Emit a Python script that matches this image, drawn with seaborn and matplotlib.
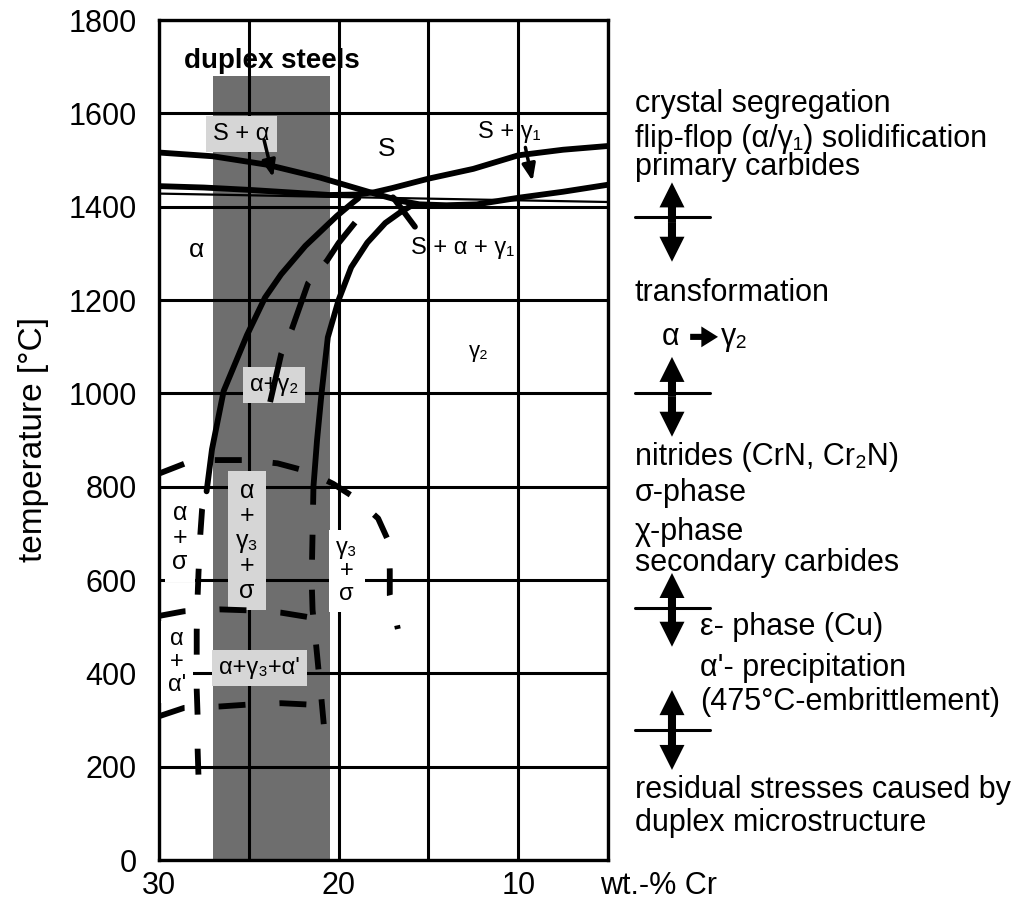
import matplotlib
matplotlib.use("Agg")
import matplotlib.pyplot as plt
import seaborn as sns
from matplotlib.patches import Rectangle

sns.set_theme(style="white")
plt.rcParams["font.family"] = ["Liberation Sans", "DejaVu Sans"]
plt.rcParams["lines.scale_dashes"] = False

# ------------------------------------------------------------------ data
x_ticks = [30, 25, 20, 15, 10, 5]
x_ticklabels = ["30", "", "20", "", "10", ""]
y_ticks = [0, 200, 400, 600, 800, 1000, 1200, 1400, 1600, 1800]

duplex_cr = [27.0, 20.5]
duplex_top = 1680

# liquidus / solidus lines
liq_a_cr = [30, 27, 24, 21, 19.5, 18, 16.5, 15.5, 14, 12.3, 10, 7.5, 5]
liq_a_t = [1516, 1508, 1490, 1462, 1445, 1428, 1412, 1405, 1403, 1405, 1419, 1432, 1447]
liq_b_cr = [30, 27.5, 25, 22.5, 20.5, 19, 18, 17, 15, 12.5, 10, 7.5, 5]
liq_b_t = [1444, 1441, 1436, 1430, 1425, 1426, 1431, 1440, 1460, 1481, 1510, 1522, 1530]
sol_cr = [30, 5]
sol_t = [1428, 1410]

# alpha / (alpha+gamma) boundary (solid)
c_cr = [27.35, 27.05, 26.4, 25.1, 24.1, 23.2, 21.85, 20.1, 19.2, 18.9]
c_t = [790, 880, 1005, 1125, 1205, 1255, 1316, 1380, 1409, 1418]
# (alpha+gamma) / gamma boundary (solid)
d_cr = [21.4, 21.2, 20.95, 20.6, 20.0, 19.3, 18.4, 17.4, 16.6, 16.0]
d_t = [800, 900, 1000, 1120, 1200, 1270, 1323, 1365, 1387, 1401]
# dashed boundary inside alpha+gamma2
e_cr = [19.08, 20.0, 20.65, 21.7, 22.6, 23.2, 23.85]
e_t = [1366, 1322, 1284, 1236, 1138, 1084, 975]
# sigma dome
f_cr = [30, 28.6, 27, 25.2, 23.4, 21.65, 20.3, 19.0, 17.8, 17.2, 17.15, 17.15, 16.9, 16.7]
f_t = [828, 849, 857, 857, 850, 832, 806, 774, 732, 681, 620, 568, 530, 495]
# lower sigma boundary
g_cr = [30, 28.6, 26.6, 25.05, 23.2, 21.6]
g_t = [523, 533, 537, 535, 530, 520]
# left vertical dashed boundary
h_cr = [27.35, 27.6, 27.7, 27.8, 27.85, 27.9, 27.9, 27.9, 27.85, 27.85, 27.8]
h_t = [790, 752, 697, 616, 564, 491, 435, 365, 308, 238, 177]
# right vertical dashed boundary
i_cr = [21.4, 21.45, 21.5, 21.45, 21.25, 21.1, 20.95, 20.8]
i_t = [800, 700, 600, 536, 460, 400, 343, 280]
# alpha' boundary
j_cr = [30, 28.6, 26.6, 25.05, 23.2, 21.6]
j_t = [308, 326, 329, 333, 336, 333]

# phase labels: text, Cr, T, box colour (None = no box), font size
lab_text = ["S + α", "S", "S + γ₁", "α", "S + α + γ₁", "γ₂", "α+γ₂",
            "α\n+\nγ₃\n+\nσ", "α\n+\nσ", "γ₃\n+\nσ", "α\n+\nα'", "α+γ₃+α'"]
lab_cr = [25.4, 17.3, 10.5, 27.9, 13.1, 12.2, 23.6, 25.1, 28.83, 19.55, 29.0, 24.43]
lab_t = [1555, 1524, 1561, 1308, 1312, 1089, 1018, 684, 691, 619, 425, 412]
lab_box = ["#d6d6d6", None, None, None, None, None, "#d6d6d6",
           "#d6d6d6", "white", "white", "white", "#d6d6d6"]
lab_size = [17, 19, 17, 19, 17, 16, 17, 18, 18, 17, 17, 17]

# right-hand notes: text, T, x (axes fraction)
note_text = ["crystal segregation", "flip-flop (α/γ₁) solidification", "primary carbides",
             "transformation", "α", "γ₂", "nitrides (CrN, Cr₂N)", "σ-phase", "χ-phase",
             "secondary carbides", "ε- phase (Cu)", "α'- precipitation",
             "(475°C-embrittlement)", "residual stresses caused by", "duplex microstructure"]
note_t = [1619, 1544, 1484, 1216, 1121, 1121, 864, 787, 703, 637, 500, 412, 339, 150, 79]
note_x = [1.06, 1.06, 1.06, 1.06, 1.12, 1.252, 1.06, 1.06, 1.06, 1.06, 1.205, 1.205,
          1.205, 1.06, 1.06]

# double arrows: top tip, bottom tip, level of the cross line
arr_top = [1452, 1078, 615, 364]
arr_bot = [1282, 907, 457, 193]
arr_line = [1377, 1001, 540, 279]

# ------------------------------------------------------------------ figure
fig = plt.figure(figsize=(10.28, 9.08), dpi=100)
ax = fig.add_axes([159 / 1028, 48 / 908, 449 / 1028, 840 / 908])

ax.add_patch(Rectangle((duplex_cr[0], 0), duplex_cr[1] - duplex_cr[0], duplex_top,
                       fc="#6e6e6e", ec="none", zorder=0.2))

K = "black"
LW = 4.2
common = dict(ax=ax, sort=False, estimator=None, color=K, legend=False)

sns.lineplot(x=liq_a_cr, y=liq_a_t, lw=LW, zorder=4, **common)
sns.lineplot(x=liq_b_cr, y=liq_b_t, lw=LW, zorder=4, **common)
sns.lineplot(x=sol_cr, y=sol_t, lw=1.6, zorder=4, **common)
sns.lineplot(x=c_cr, y=c_t, lw=LW, zorder=4, **common)
sns.lineplot(x=d_cr, y=d_t, lw=LW, zorder=4, **common)
sns.lineplot(x=e_cr, y=e_t, lw=LW, zorder=4, linestyle=(0, (36, 18.7)), **common)
sns.lineplot(x=f_cr, y=f_t, lw=LW, zorder=4, linestyle=(0, (19.4, 22.3)), **common)
sns.lineplot(x=g_cr, y=g_t, lw=LW, zorder=4, linestyle=(0, (19.4, 24.5)), **common)
sns.lineplot(x=h_cr, y=h_t, lw=LW, zorder=4, linestyle=(30.2, (18.7, 24.5)), **common)
sns.lineplot(x=i_cr, y=i_t, lw=LW, zorder=4, linestyle=(5, (18, 21.6)), **common)
sns.lineplot(x=j_cr, y=j_t, lw=LW, zorder=4, linestyle=(0, (19.4, 24.5)), **common)

# pointer arrows / lines
ax.annotate("", xy=(23.65, 1463), xytext=(24.15, 1543),
            arrowprops=dict(arrowstyle="-|>,head_length=0.5,head_width=0.2",
                            mutation_scale=20, color=K, lw=2.5, shrinkA=0, shrinkB=0),
            zorder=5)
ax.annotate("", xy=(9.2, 1455), xytext=(9.6, 1527),
            arrowprops=dict(arrowstyle="-|>,head_length=0.5,head_width=0.2",
                            mutation_scale=20, color=K, lw=2.5, shrinkA=0, shrinkB=0),
            zorder=5)
sns.lineplot(x=[16.97, 15.75], y=[1420, 1357], lw=LW, zorder=4, **common)

# labels
for txt, cr, t, box, fs in zip(lab_text, lab_cr, lab_t, lab_box, lab_size):
    kw = dict(ha="center", va="center", fontsize=fs, color=K, zorder=3,
              linespacing=1.05)
    if box is not None:
        kw["bbox"] = dict(boxstyle="square,pad=0.3", fc=box, ec="none")
    ax.text(cr, t, txt, **kw)

ax.text(23.7, 1713, "duplex steels", ha="center", va="center", fontsize=20,
        fontweight="bold", color=K)

# axes styling
ax.set_xlim(30, 5)
ax.set_ylim(0, 1800)
ax.set_xticks(x_ticks)
ax.set_xticklabels(x_ticklabels)
ax.set_yticks(y_ticks)
ax.set_yticklabels([str(v) for v in y_ticks])
ax.tick_params(axis="both", length=0, labelsize=22, colors=K)
ax.tick_params(axis="y", pad=16)
ax.tick_params(axis="x", pad=8)
ax.set_axisbelow(True)
ax.grid(True, color=K, lw=2.2)
for sp in ax.spines.values():
    sp.set_color(K)
    sp.set_linewidth(2.4)
ax.set_xlabel("")
ax.set_ylabel("temperature [°C]", fontsize=24, color=K)
ax.yaxis.set_label_coords(-0.245, 0.5)
ax.text(0.982, -0.031, "wt.-% Cr", transform=ax.transAxes, ha="left", va="center",
        fontsize=22, color=K)

# right-hand notes
trans = ax.get_yaxis_transform()
for txt, t, xx in zip(note_text, note_t, note_x):
    ax.text(xx, t, txt, transform=trans, ha="left", va="center", fontsize=22,
            color=K, clip_on=False)

# small arrow of "alpha -> gamma2"
ax.annotate("", xy=(1.245, 1121), xytext=(1.183, 1121), xycoords=trans,
            textcoords=trans, annotation_clip=False,
            arrowprops=dict(arrowstyle="simple,head_length=0.6,head_width=0.75,tail_width=0.22",
                            mutation_scale=20, fc=K, ec="none", lw=0,
                            shrinkA=0, shrinkB=0))

AX_X = 1.1425
for top, bot, lv in zip(arr_top, arr_bot, arr_line):
    mid = (top + bot) / 2
    for tip in (top, bot):
        ax.annotate("", xy=(AX_X, tip), xytext=(AX_X, mid), xycoords=trans,
                    textcoords=trans, annotation_clip=False,
                    arrowprops=dict(arrowstyle="simple,head_length=0.9,head_width=0.9,tail_width=0.29",
                                    mutation_scale=20, fc=K, ec="none", lw=0,
                                    shrinkA=0, shrinkB=0))
    ax.plot([1.06, 1.227], [lv, lv], transform=trans, clip_on=False, color=K, lw=2.2)

fig.savefig("out.png", dpi=100)
